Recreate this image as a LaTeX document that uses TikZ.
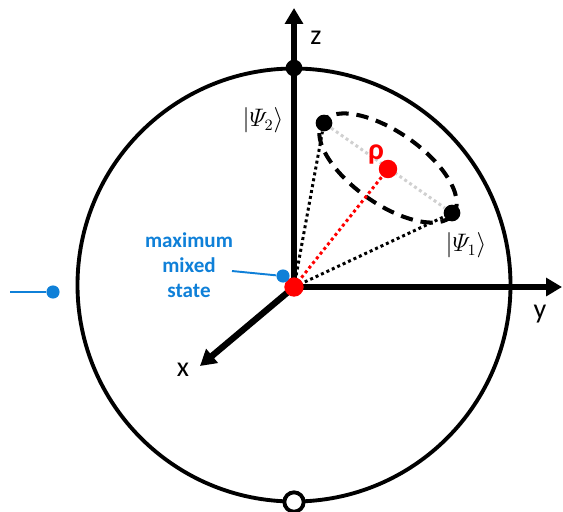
\documentclass[tikz,border=0pt]{standalone}
\usepackage{fontspec}
\setmainfont{Carlito}
\usepackage{amsmath}
\usepackage{tikz}
\usetikzlibrary{arrows.meta,positioning,backgrounds}
\definecolor{MixBlue}{HTML}{0F80D8}
\definecolor{RhoRed}{HTML}{FF0000}
\definecolor{ChordGrey}{HTML}{D0D0D0}
\tikzset{
  sphere/.style={line width=2.2pt},
  axis/.style={line width=3.6pt,-{Triangle[length=9pt,width=10pt]}},
  ringdash/.style={line width=2.3pt,dash pattern=on 7pt off 4.5pt},
  dotline/.style={line width=1.7pt,dash pattern=on 1.7pt off 1.7pt},
  dot/.style={circle,fill=black,inner sep=0pt,minimum size=9.5pt},
  rdot/.style={dot,fill=RhoRed,minimum size=11pt},
  bdot/.style={dot,fill=MixBlue,minimum size=7.5pt},
  hole/.style={circle,draw,line width=2.2pt,fill=white,inner sep=0pt,minimum size=11pt},
  lbl/.style={font=\fontsize{16}{18}\selectfont},
  ket/.style={font=\fontsize{13.5}{15}\selectfont},
  blue/.style={MixBlue,line width=1.1pt}
}

\begin{document}
\begin{tikzpicture}[x=0.02cm,y=-0.02cm]
  \useasboundingbox (0,0) rectangle (563,511);
  \coordinate (C) at (294,285);
  \node[rdot] (O) at (294,287) {};
  \node[dot] (ztop) at (294,68) {};
  \node[hole] (zbot) at (294,502) {};
  \node[dot] (psi2) at (324,123) {};
  \node[dot] (psi1) at (452,213) {};
  \node[rdot,minimum size=10.5pt] (rho) at (388,169) {};
  \node[bdot] (mix) at (283,276) {};
  \node[bdot] (lost) at (53,292) {};
  \coordinate (zend) at (294,8);
  \coordinate (yend) at (562,287);
  \coordinate (xend) at (200,366);
  \coordinate (mixtail) at (232,271);
  \coordinate (losttail) at (10,292);

  \node[lbl] (zlab) at (316,38) {z};
  \node[lbl] (ylab) at (540,314) {y};
  \node[lbl] (xlab) at (183,370) {x};
  \node[font=\fontsize{17}{19}\selectfont\bfseries,text=RhoRed] (rholab) at (376,154) {ρ};
  \node[ket] (psi2lab) at (263,120) {$|\varPsi_2\rangle$};
  \node[ket] (psi1lab) at (466,245) {$|\varPsi_1\rangle$};
  \node[align=center,text=MixBlue,font=\fontsize{12}{14.2}\selectfont\bfseries] (mixlab) at (189,265) {maximum\\mixed\\state};

  \begin{scope}[on background layer]
    \draw[sphere] (C) circle[radius=216.5];
    \draw[axis] (O.center) -- (zend);
    \draw[axis] (O.center) -- (yend);
    \draw[axis] (O.center) -- (xend);
    \draw[ringdash] plot[smooth cycle,domain=0:355,samples=72]
      ({388+80*cos(\x)*0.819-36*sin(\x)*0.574},{168+80*cos(\x)*0.574+36*sin(\x)*0.819});
    \draw[dotline,ChordGrey] (psi2) -- (psi1);
    \draw[dotline] (O.center) -- (psi2);
    \draw[dotline] (O.center) -- (psi1);
    \draw[dotline,RhoRed] (O.center) -- (rho);
    \draw[blue] (mixtail) -- (mix);
    \draw[blue] (losttail) -- (lost);
  \end{scope}
\end{tikzpicture}
\end{document}
